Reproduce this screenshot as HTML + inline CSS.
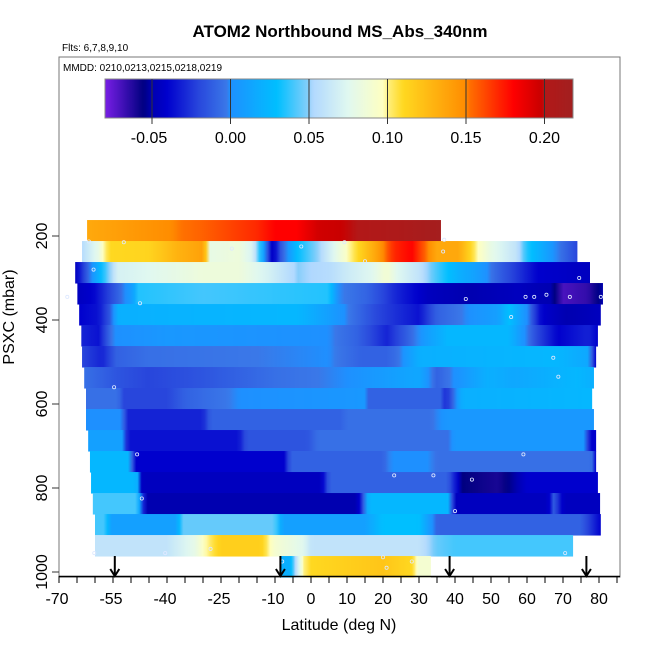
<!DOCTYPE html>
<html><head><meta charset="utf-8"><style>
body{margin:0;background:#fff}
svg text{font-family:"Liberation Sans",sans-serif}
</style></head><body>
<svg id="chart" width="650" height="650" viewBox="0 0 650 650" xmlns="http://www.w3.org/2000/svg">
<defs id="defs"></defs>
<rect x="0" y="0" width="650" height="650" fill="#fff"/>
<text x="340" y="37" text-anchor="middle" font-size="17" font-weight="bold">ATOM2 Northbound MS_Abs_340nm</text>
<text x="62" y="51" font-size="10">Flts: 6,7,8,9,10</text>
<rect x="59" y="57" width="561" height="520" fill="none" stroke="#777" stroke-width="1"/>
<text x="63" y="71" font-size="10">MMDD: 0210,0213,0215,0218,0219</text>
<g id="heat"></g>
<g id="pts"></g>
<g id="arrows"></g>
<g id="cbar"></g>
<g id="xaxis"></g>
<g id="yaxis"></g>
<text x="339" y="630" text-anchor="middle" font-size="16">Latitude (deg N)</text>
<text transform="translate(14,317) rotate(-90)" text-anchor="middle" font-size="16">PSXC (mbar)</text>
</svg>
<script>
// ---- data ----
const rowPressures = [187,237,287,337,387,437,487,537,587,637,687,737,787,837,887,937,987];
const rowLatStart = [-62.2,-63.6,-65.5,-64.9,-64.4,-63.8,-63.6,-63,-62.5,-62.5,-61.9,-61.4,-61.1,-60.6,-60,-60,-8.6];
const rowLatEnd = [36.1,74,77.5,81.1,80.5,79.7,79.2,78.6,78.1,78.6,79.2,79.2,79.7,80.3,80.5,72.8,33.3];
const row0 = [[-62,0.135],[-31,0.155],[-15,0.17],[-10,0.18],[-4,0.18],[2,0.195],[24,0.205],[36,0.215]];
const row1 = [[-63.6,0.055],[-59,0.08],[-58,0.095],[-56,0.11],[-45,0.112],[-37,0.13],[-29.5,0.14],[-28.6,0.08],[-20,0.085],[-16,0.07],[-14,0.03],[-10.5,-0.05],[-9,-0.02],[-3.6,0.03],[3,0.055],[9,0.09],[13,0.11],[18.6,0.14],[23,0.17],[28,0.18],[31,0.16],[35,0.135],[41,0.135],[46,0.1],[50,0.08],[57,0.06],[60,0.035],[68,0],[74,-0.02]];
const row2 = [[-65.5,-0.045],[-62,-0.01],[-58,0.03],[-56,0.05],[-53.6,0.07],[-45,0.075],[-30,0.085],[-20,0.085],[-12,0.07],[-3.6,0.05],[5,0.055],[10,0.065],[17,0.075],[21,0.09],[24,0.075],[30,0.06],[35,0.04],[41,0.02],[46,0.01],[52,-0.01],[63,-0.04],[77.5,-0.045]];
const row3 = [[-65,-0.045],[-60.5,-0.04],[-53.6,-0.01],[-49.4,0.01],[-48,0.035],[-30,0.04],[5,0.035],[7.5,0],[16,-0.01],[24,-0.03],[32.5,-0.045],[43.6,-0.05],[57.5,-0.045],[67,-0.05],[70,-0.07],[77,-0.065],[81,-0.05]];
const row4 = [[-64.4,-0.04],[-59,-0.035],[-56,-0.015],[-53.6,0.02],[-40,0.022],[-4,0.025],[5,0.01],[18.6,-0.02],[30,-0.035],[35,-0.01],[52,0.01],[55,0.03],[60,0],[64,-0.04],[71,-0.05],[80.5,-0.045]];
const row5 = [[-63.8,-0.03],[-59,-0.035],[-55,0],[-40,0.005],[5,0],[13,-0.01],[21,-0.03],[27,-0.01],[32.5,0.01],[38,0.025],[55,0.025],[63,-0.02],[68.6,-0.04],[77,-0.03],[79.7,-0.04]];
const row6 = [[-63.6,-0.02],[-58,-0.03],[-54,-0.01],[-45,-0.005],[5,0],[14,-0.01],[21,-0.01],[24,-0.005],[30,0.02],[43,0.022],[68,0.025],[77,0.015],[79.2,-0.04]];
const row7 = [[-63,-0.005],[-53.6,-0.015],[-45,-0.02],[-31,-0.015],[-10,-0.005],[10,0],[30,0.015],[35,-0.01],[49,0.02],[57,0.015],[74,0.025],[78.6,0.02]];
const row8 = [[-62.5,-0.005],[-53.5,-0.005],[-52,-0.02],[-40,-0.02],[-35,-0.01],[-20,0],[15,0.005],[16,-0.01],[36,-0.01],[37.5,-0.03],[42,0.02],[78.1,0.025]];
const row9 = [[-62.5,0],[-52.5,0],[-51,-0.03],[-30,-0.03],[-28,-0.01],[8,-0.01],[10,-0.005],[33,-0.005],[38,0.005],[78.6,0.005]];
const row10 = [[-61.9,0.01],[-52.5,0.01],[-51,-0.035],[-20,-0.035],[-18,-0.015],[-1,-0.015],[2,-0.005],[38,-0.005],[40,0.005],[76,0.005],[77.5,-0.04],[79.2,-0.04]];
const row11 = [[-61.4,0.025],[-50.5,0.025],[-49,-0.04],[-7,-0.04],[-6,-0.01],[20,-0.01],[22,0],[33,0],[35,-0.005],[78,-0.005],[79.2,-0.04]];
const row12 = [[-61.1,0.025],[-48.3,0.025],[-47,-0.045],[3,-0.045],[5,-0.01],[38,-0.01],[42,-0.055],[52,-0.06],[57,-0.05],[60,-0.04],[79.7,-0.04]];
const row13 = [[-60.6,0.04],[-48.3,0.04],[-46,-0.05],[13,-0.05],[16,0.025],[38,0.025],[40,-0.045],[66,-0.045],[67.5,-0.01],[70,-0.045],[80.3,-0.045]];
const row14 = [[-60,0.04],[-57,0.04],[-56,0.01],[-37,0.01],[-36,0.045],[-10,0.045],[-8,0.01],[15,0.01],[20,0.03],[30,0.03],[35,-0.01],[75,-0.01],[80.5,-0.04]];
const row15 = [[-60,0.06],[-40,0.06],[-32,0.08],[-30,0.095],[-25,0.115],[-14,0.115],[-10,0.09],[-2,0.075],[0,0.06],[30,0.06],[35,0.045],[40,0.04],[72.8,0.04]];
const row16 = [[-8.6,0.02],[-6,0.02],[-2,0.1],[0,0.11],[20,0.12],[28,0.11],[30,0.09],[33.3,0.09]];
const rowValues = [row0,row1,row2,row3,row4,row5,row6,row7,row8,row9,row10,row11,row12,row13,row14,row15,row16];
const pointLats = [-61.7,-52,-22,-2.7,9.3,37,-60.4,15,36.7,43,59.6,62,65.4,71.9,-67.7,74.5,80.5,-47.5,55.6,67.3,68.7,-54.7,40,-48.3,23.1,34,44.7,59,-47,-8,21,28,20,-27.9,-60.2,-40.5,-40.5,70.6];
const pointPs = [213,215,230,225,215,209,280,260,237,350,345,345,340,345,345,300,345,360,393,490,535,560,855,720,770,770,780,720,825,975,990,975,965,945,955,955,955,955];
const arrowLats = [-54.5,-8.5,38.5,76.5];
const cbTicks = [-0.05,0,0.05,0.10,0.15,0.20];
const cbLabels = ["-0.05","0.00","0.05","0.10","0.15","0.20"];
const xTickLabels = [-70,-55,-40,-25,-10,0,10,20,30,40,50,60,70,80];
const yTickLabels = [200,400,600,800,1000];

// ---- scales ----
const xS = lat => 59 + (lat + 70) * 3.6;
const yS = p => 152 + 0.42 * p;
const cS = v => 230.5 + v * 1570;
const NS = "http://www.w3.org/2000/svg";
function mk(tag, attrs, parent){const e=document.createElementNS(NS,tag);for(const k in attrs)e.setAttribute(k,attrs[k]);parent.appendChild(e);return e;}

const cmap = [[-0.08,[123,31,232]],[-0.055,[0,0,128]],[-0.05,[0,0,176]],[-0.04,[0,0,205]],[-0.02,[40,70,220]],[-0.002,[58,120,232]],[0,[30,144,255]],[0.03,[0,191,255]],[0.05,[135,206,250]],[0.052,[176,216,255]],[0.075,[224,248,240]],[0.098,[255,255,192]],[0.1,[255,240,128]],[0.11,[255,216,32]],[0.15,[255,140,0]],[0.152,[255,112,0]],[0.18,[255,0,0]],[0.198,[200,0,0]],[0.2,[178,24,24]],[0.22,[160,32,32]]];
function col(v){
  if(v<=cmap[0][0])return `rgb(${cmap[0][1]})`;
  for(let i=1;i<cmap.length;i++){if(v<=cmap[i][0]){const a=cmap[i-1],b=cmap[i];const t=(v-a[0])/(b[0]-a[0]);const c=a[1].map((q,j)=>Math.round(q+(b[1][j]-q)*t));return `rgb(${c.join(',')})`;}}
  return `rgb(${cmap[cmap.length-1][1]})`;
}
function interp(stops,lat){
  if(lat<=stops[0][0])return stops[0][1];
  for(let i=1;i<stops.length;i++){if(lat<=stops[i][0]){const a=stops[i-1],b=stops[i];return a[1]+(b[1]-a[1])*(lat-a[0])/(b[0]-a[0]);}}
  return stops[stops.length-1][1];
}

// ---- heatmap ----
const heat=document.getElementById('heat'), defs=document.getElementById('defs');
rowPressures.forEach((p,i)=>{
  const l0=rowLatStart[i], l1=rowLatEnd[i], st=rowValues[i];
  const g=mk('linearGradient',{id:'g'+i,x1:xS(l0),x2:xS(l1),y1:0,y2:0,gradientUnits:'userSpaceOnUse'},defs);
  const n=120;
  for(let k=0;k<=n;k++){const lat=l0+(l1-l0)*k/n;mk('stop',{offset:(k/n).toFixed(4),'stop-color':col(interp(st,lat))},g);}
  const r=mk('rect',{x:xS(l0),y:yS(p-25),width:xS(l1)-xS(l0),height:yS(p+25)-yS(p-25)+0.5,fill:'url(#g'+i+')'},heat);
  
  
});

// ---- points ----
const pts=document.getElementById('pts');
pointLats.forEach((lat,i)=>{
  const c=mk('circle',{cx:xS(lat),cy:yS(pointPs[i]),r:1.6,fill:'none',stroke:'#dde8ff','stroke-width':0.8},pts);
  
  
});

// ---- arrows ----
const arr=document.getElementById('arrows');
arrowLats.forEach(lat=>{
  const x=xS(lat);
  const g=mk('g',{stroke:'#000','stroke-width':2,fill:'none'},arr);
  
  
  mk('line',{x1:x,y1:556,x2:x,y2:576},g);
  mk('polyline',{points:`${x-4.5},569 ${x},576 ${x+4.5},569`},g);
});

// ---- colorbar ----
const cb=document.getElementById('cbar');
const cg=mk('linearGradient',{id:'cbg',x1:105,x2:573,y1:0,y2:0,gradientUnits:'userSpaceOnUse'},defs);
for(let k=0;k<=150;k++){const v=-0.0795+(0.218+0.0795)*k/150;mk('stop',{offset:(k/150).toFixed(4),'stop-color':col(v)},cg);}
mk('rect',{x:105,y:79,width:468,height:39,fill:'url(#cbg)',stroke:'#888','stroke-width':1},cb);
cbTicks.forEach((v,i)=>{
  const x=cS(v);
  mk('line',{x1:x,y1:79,x2:x,y2:124,stroke:'#333','stroke-width':1},cb);
  const t=mk('text',{x:x-(cbLabels[i][0]==='-'?3:0),y:143,'text-anchor':'middle','font-size':16},cb);
  t.textContent=cbLabels[i];
  
  
});

// ---- axes ----
const xa=document.getElementById('xaxis');
mk('line',{x1:59,y1:576.5,x2:620,y2:576.5,stroke:'#000','stroke-width':1.5},xa);
for(let lat=-70;lat<=85;lat+=5){mk('line',{x1:xS(lat),y1:576,x2:xS(lat),y2:583,stroke:'#000','stroke-width':1},xa);}
xTickLabels.forEach(lat=>{
  const t=mk('text',{x:xS(lat)-(lat<0?2:0),y:604,'text-anchor':'middle','font-size':16},xa);
  t.textContent=String(lat);
  
  
});
const ya=document.getElementById('yaxis');
yTickLabels.forEach(p=>{
  const y=yS(p);
  mk('line',{x1:52,y1:y,x2:59,y2:y,stroke:'#333','stroke-width':1},ya);
  const t=mk('text',{transform:`translate(47,${y}) rotate(-90)`,'text-anchor':'middle','font-size':16},ya);
  t.textContent=String(p);
  
  
});
</script>
</body></html>
